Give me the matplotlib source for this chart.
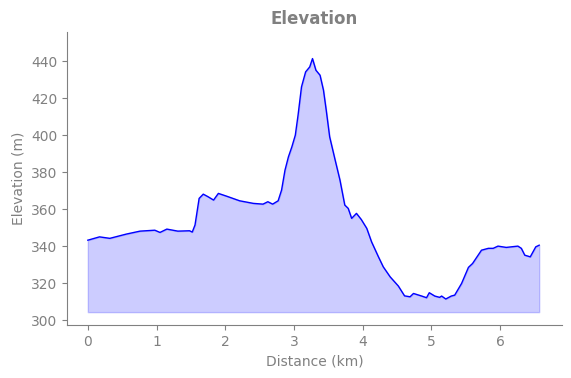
import matplotlib
matplotlib.use("Agg")
import matplotlib.pyplot as plt

distance_km = [0.0, 0.17, 0.32, 0.56, 0.76, 0.975, 1.05, 1.15, 1.31, 1.48, 1.52, 1.56, 1.62, 1.68,
               1.75, 1.83, 1.90, 2.02, 2.21, 2.41, 2.55, 2.62, 2.69, 2.77, 2.82, 2.87, 2.92, 2.97,
               3.02, 3.06, 3.11, 3.17, 3.23, 3.27, 3.32, 3.38, 3.43, 3.47, 3.52, 3.60, 3.67, 3.74,
               3.79, 3.84, 3.91, 3.98, 4.06, 4.13, 4.23, 4.30, 4.40, 4.52, 4.61, 4.69, 4.74, 4.86,
               4.93, 4.97, 5.05, 5.12, 5.15, 5.21, 5.29, 5.34, 5.44, 5.54, 5.60, 5.73, 5.83, 5.90,
               5.97, 6.09, 6.26, 6.31, 6.36, 6.44, 6.52, 6.57]
elevation_m = [343.2, 345.0, 344.2, 346.5, 348.1, 348.6, 347.4, 349.2, 348.1, 348.3, 347.6, 351.4,
               365.8, 368.1, 366.7, 364.9, 368.5, 367.0, 364.5, 363.1, 362.7, 364.0, 362.7, 364.5,
               370.3, 381.1, 388.3, 393.7, 400.0, 410.8, 426.1, 434.2, 436.9, 441.4, 435.1, 432.4,
               424.3, 413.5, 399.1, 386.5, 375.7, 362.2, 360.4, 355.0, 357.7, 354.4, 349.6, 342.3,
               334.2, 328.8, 323.4, 318.4, 313.1, 312.6, 314.4, 313.0, 312.1, 314.8, 313.0, 312.3,
               313.0, 311.4, 313.0, 313.5, 319.8, 328.5, 330.6, 337.8, 338.8, 338.8, 340.0, 339.3,
               340.0, 338.8, 335.1, 334.2, 339.6, 340.5]
fill_base = 304.3

gray = "#808080"
fig = plt.figure(figsize=(5.71, 3.78), dpi=100)
ax = fig.add_axes([0.117, 0.140, 0.867, 0.775])
ax.fill_between(distance_km, elevation_m, fill_base, color="blue", alpha=0.2)
ax.plot(distance_km, elevation_m, color="blue", linewidth=1)
ax.set_xlim(-0.306, 6.9)
ax.set_ylim(297.3, 455.7)
ax.set_yticks([300, 320, 340, 360, 380, 400, 420, 440])
ax.set_xticks([0, 1, 2, 3, 4, 5, 6])
ax.set_title("Elevation", color=gray, fontweight="bold", fontsize=12)
ax.set_xlabel("Distance (km)", color=gray)
ax.set_ylabel("Elevation (m)", color=gray)
for s in ["top", "right"]:
    ax.spines[s].set_visible(False)
for s in ["left", "bottom"]:
    ax.spines[s].set_color(gray)
ax.tick_params(colors=gray)
fig.savefig("out.png", dpi=100)
